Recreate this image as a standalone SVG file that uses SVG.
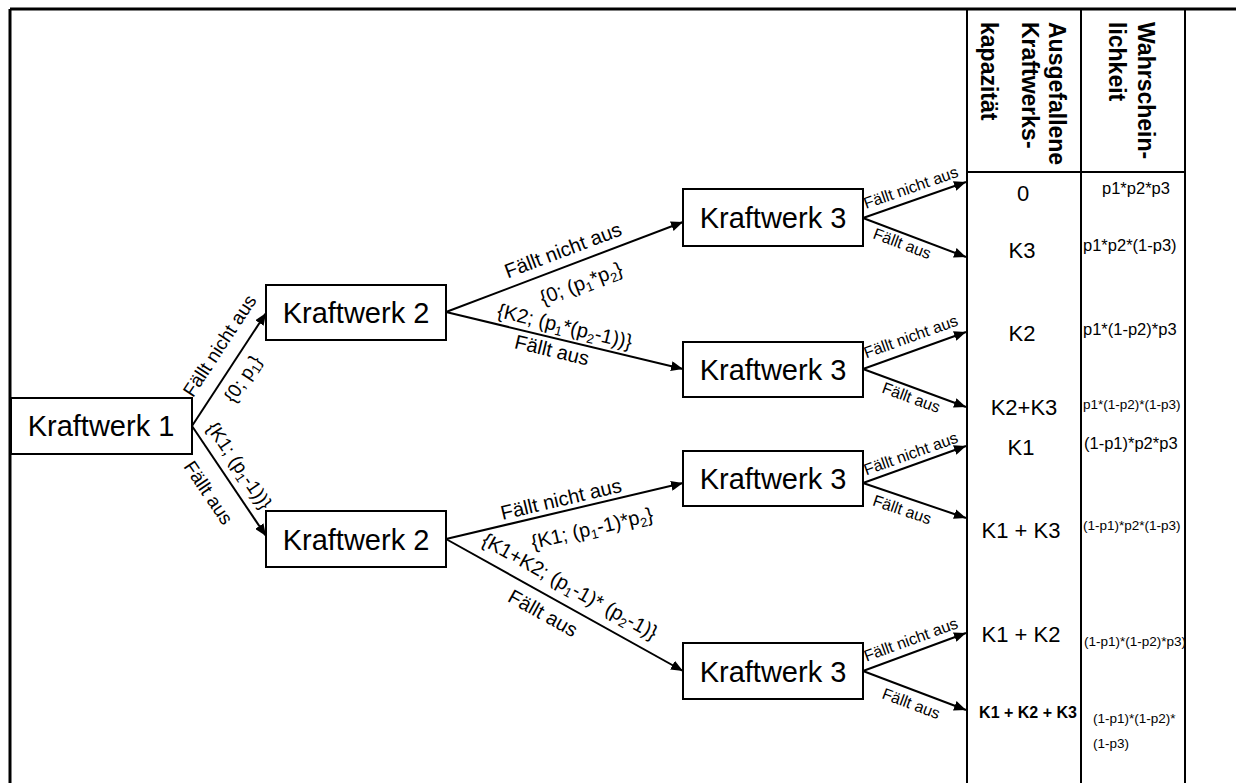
<svg xmlns="http://www.w3.org/2000/svg" width="1236" height="783" viewBox="0 0 1236 783">
<style>
text{font-family:"Liberation Sans",Arial,sans-serif;fill:#000}
.box{fill:#fff;stroke:#000;stroke-width:2}
.bt{font-size:29px;text-anchor:middle}
.conn{stroke:#000;stroke-width:2;fill:none;marker-end:url(#ah)}
.grid{stroke:#000;stroke-width:2}
.border{stroke:#000;stroke-width:3}
.hd{font-size:23px;font-weight:bold}
.val{font-size:22px;text-anchor:middle}
.pr{font-size:16.5px}
.prs{font-size:13.5px}
.lm{font-size:20px;text-anchor:middle}
.l1{font-size:19px;text-anchor:middle}
.ls{font-size:16px;text-anchor:middle}
.sub{font-size:13px}
</style>
<defs>
<marker id="ah" markerUnits="userSpaceOnUse" markerWidth="12" markerHeight="10" refX="12" refY="5" orient="auto">
<path d="M0,0 L12,5 L0,10 z" fill="#000"/>
</marker>
</defs>
<g id="frame">
<line class="border" x1="10" y1="9" x2="1236" y2="9"/>
<line class="border" x1="10" y1="9" x2="10" y2="783"/>
<line class="grid" x1="967" y1="9" x2="967" y2="783"/>
<line class="grid" x1="1081" y1="9" x2="1081" y2="783"/>
<line class="grid" x1="1185" y1="9" x2="1185" y2="783"/>
<line class="grid" x1="967" y1="172" x2="1185" y2="172"/>
</g>
<g id="header">
<text class="hd" transform="translate(1049,22) rotate(90)">Ausgefallene</text>
<text class="hd" transform="translate(1022,22) rotate(90)">Kraftwerks-</text>
<text class="hd" transform="translate(981,22) rotate(90)">kapazität</text>
<text class="hd" transform="translate(1138,22) rotate(90)">Wahrschein-</text>
<text class="hd" transform="translate(1109,22) rotate(90)">lichkeit</text>
</g>
<g id="connectors">
<line class="conn" x1="192" y1="426" x2="266" y2="313"/>
<line class="conn" x1="192" y1="426" x2="266" y2="536"/>
<line class="conn" x1="446" y1="312" x2="683" y2="222"/>
<line class="conn" x1="446" y1="312" x2="683" y2="369"/>
<line class="conn" x1="446" y1="539" x2="683" y2="483"/>
<line class="conn" x1="446" y1="539" x2="683" y2="671"/>
<line class="conn" x1="863" y1="218" x2="966" y2="182"/>
<line class="conn" x1="863" y1="218" x2="966" y2="257"/>
<line class="conn" x1="863" y1="369" x2="966" y2="332"/>
<line class="conn" x1="863" y1="369" x2="966" y2="407"/>
<line class="conn" x1="863" y1="483" x2="966" y2="446"/>
<line class="conn" x1="863" y1="483" x2="966" y2="518"/>
<line class="conn" x1="863" y1="671" x2="966" y2="633"/>
<line class="conn" x1="863" y1="671" x2="966" y2="710"/>
</g>
<g id="connector-labels">
<text class="l1" transform="translate(220,346) rotate(-56.8)" y="6">Fällt nicht aus</text>
<text class="l1" transform="translate(243,379) rotate(-56.8)" y="6">{0; p<tspan class="sub" dy="4">1</tspan><tspan dy="-4">}</tspan></text>
<text class="l1" transform="translate(239,466) rotate(56)" y="6">{K1; (p<tspan class="sub" dy="4">1</tspan><tspan dy="-4">-1))}</tspan></text>
<text class="l1" transform="translate(208,493) rotate(56)" y="6">Fällt aus</text>
<text class="lm" transform="translate(563,250) rotate(-20.8)" y="7">Fällt nicht aus</text>
<text class="lm" transform="translate(581,283) rotate(-20.8)" y="7">{0; (p<tspan class="sub" dy="4">1</tspan><tspan dy="-4">*p</tspan><tspan class="sub" dy="4">2</tspan><tspan dy="-4">}</tspan></text>
<text class="lm" transform="translate(565,326) rotate(13.5)" y="7">{K2; (p<tspan class="sub" dy="4">1</tspan><tspan dy="-4">*(p</tspan><tspan class="sub" dy="4">2</tspan><tspan dy="-4">-1))}</tspan></text>
<text class="lm" transform="translate(552,350) rotate(13.5)" y="7">Fällt aus</text>
<text class="lm" transform="translate(561,499) rotate(-13.3)" y="7">Fällt nicht aus</text>
<text class="lm" transform="translate(592,528) rotate(-13.3)" y="7">{K1; (p<tspan class="sub" dy="4">1</tspan><tspan dy="-4">-1)*p</tspan><tspan class="sub" dy="4">2</tspan><tspan dy="-4">}</tspan></text>
<text class="lm" transform="translate(570,586) rotate(29.1)" y="7">{K1+K2; (p<tspan class="sub" dy="4">1</tspan><tspan dy="-4">-1)* (p</tspan><tspan class="sub" dy="4">2</tspan><tspan dy="-4">-1)}</tspan></text>
<text class="lm" transform="translate(543,613) rotate(29.1)" y="7">Fällt aus</text>
<text class="ls" transform="translate(911,188) rotate(-19.3)" y="5">Fällt nicht aus</text>
<text class="ls" transform="translate(902,244) rotate(20.7)" y="5">Fällt aus</text>
<text class="ls" transform="translate(911,337) rotate(-19.8)" y="5">Fällt nicht aus</text>
<text class="ls" transform="translate(911,398) rotate(20.2)" y="5">Fällt aus</text>
<text class="ls" transform="translate(911,454) rotate(-19.8)" y="5">Fällt nicht aus</text>
<text class="ls" transform="translate(902,510) rotate(18.8)" y="5">Fällt aus</text>
<text class="ls" transform="translate(911,640) rotate(-20.2)" y="5">Fällt nicht aus</text>
<text class="ls" transform="translate(911,704) rotate(20.7)" y="5">Fällt aus</text>
</g>
<g id="kraftwerk1"><rect class="box" x="11" y="398" width="181" height="56"/><text class="bt" x="101" y="436">Kraftwerk 1</text></g>
<g id="kraftwerk2a"><rect class="box" x="266" y="285" width="180" height="55"/><text class="bt" x="356" y="323">Kraftwerk 2</text></g>
<g id="kraftwerk2b"><rect class="box" x="266" y="511" width="180" height="56"/><text class="bt" x="356" y="550">Kraftwerk 2</text></g>
<g id="kraftwerk3a"><rect class="box" x="683" y="189" width="180" height="57"/><text class="bt" x="773" y="228">Kraftwerk 3</text></g>
<g id="kraftwerk3b"><rect class="box" x="683" y="342" width="180" height="55"/><text class="bt" x="773" y="380">Kraftwerk 3</text></g>
<g id="kraftwerk3c"><rect class="box" x="683" y="451" width="180" height="55"/><text class="bt" x="773" y="489">Kraftwerk 3</text></g>
<g id="kraftwerk3d"><rect class="box" x="683" y="643" width="180" height="56"/><text class="bt" x="773" y="682">Kraftwerk 3</text></g>
<g id="capacity">
<text class="val" x="1023" y="201">0</text>
<text class="val" x="1022" y="258">K3</text>
<text class="val" x="1022" y="341">K2</text>
<text class="val" x="1024" y="415">K2+K3</text>
<text class="val" x="1021" y="455">K1</text>
<text class="val" x="1021" y="538">K1 + K3</text>
<text class="val" x="1021" y="642">K1 + K2</text>
<text x="1028" y="718" style="font-size:16px;font-weight:bold;text-anchor:middle">K1 + K2 + K3</text>
</g>
<g id="probability">
<text class="pr" x="1102" y="194">p1*p2*p3</text>
<text class="pr" x="1083" y="251">p1*p2*(1-p3)</text>
<text class="pr" x="1083" y="335">p1*(1-p2)*p3</text>
<text class="prs" x="1083" y="409">p1*(1-p2)*(1-p3)</text>
<text class="pr" x="1084" y="449">(1-p1)*p2*p3</text>
<text class="prs" x="1083" y="530">(1-p1)*p2*(1-p3)</text>
<text class="prs" x="1084" y="646">(1-p1)*(1-p2)*p3)</text>
<text class="prs" x="1093" y="723">(1-p1)*(1-p2)*</text>
<text class="prs" x="1093" y="748">(1-p3)</text>
</g>
</svg>
